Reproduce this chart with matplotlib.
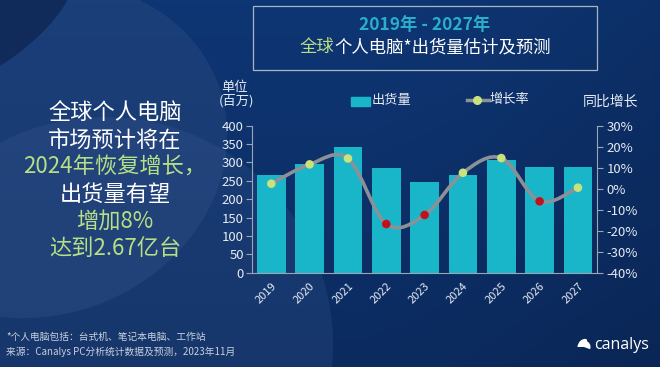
import numpy as np
import matplotlib
matplotlib.use("Agg")
import matplotlib.pyplot as plt
from matplotlib.patches import Rectangle, Circle, Ellipse, PathPatch, Wedge
from matplotlib.path import Path
from matplotlib.ticker import FuncFormatter

plt.rcParams['font.family'] = ['Noto Sans CJK SC', 'DejaVu Sans']

# Data
years = ['2019', '2020', '2021', '2022', '2023', '2024', '2025', '2026', '2027']
shipments = [267, 297, 341, 285, 248, 267, 307, 287, 288]        # 百万台
growth = [2.4, 11.6, 14.4, -16.8, -12.5, 7.6, 14.6, -6.0, 0.5]    # 同比增长 %

headline = [("全球个人电脑", 'w'), ("市场预计将在", 'w'), ("2024年恢复增长，", 'g'),
            ("出货量有望", 'w'), ("增加8%", 'g'), ("达到2.67亿台", 'g')]

# Colors
BAR = '#19b6c9'
GREEN = '#b6df86'
MARK_POS = '#c9e27c'
MARK_NEG = '#c2111c'
LINE = '#8c9097'
TXT = '#e6ebf2'
SPINE = '#9aa6b6'

fig = plt.figure(figsize=(6.6, 3.67), dpi=100)

# Background (pixel coordinates)
bg = fig.add_axes([0, 0, 1, 1], zorder=-1)
bg.set_xlim(0, 660)
bg.set_ylim(367, 0)
bg.axis('off')
gx = np.linspace(0, 1, 200)
gy = np.linspace(0, 1, 120)
X, Y = np.meshgrid(gx, gy)
c_top = np.array([0x0e, 0x36, 0x74]) / 255
c_bot = np.array([0x0a, 0x24, 0x52]) / 255
c_right = np.array([0x08, 0x20, 0x4a]) / 255
t = np.clip(0.6 * Y + 0.5 * np.clip(X - 0.55, 0, 1), 0, 1)[..., None]
img = c_top * (1 - t) + c_bot * t
k = 0.4 * np.clip(X - 0.7, 0, 1)[..., None]
img = img * (1 - k) + c_right * k
bg.imshow(img, extent=[0, 660, 367, 0], aspect='auto', zorder=0)
bg.add_patch(Ellipse((40, 150), 380, 330, angle=-20, color='#2a4a80', alpha=0.45, lw=0, zorder=1))
bg.add_patch(Circle((105, 345), 228, color='#3a5a90', alpha=0.25, lw=0, zorder=1))
bg.add_patch(Ellipse((-40, 20), 260, 120, angle=-30, color='#0a1f45', alpha=0.6, lw=0, zorder=1))

# Title box
bg.add_patch(Rectangle((253, 6), 344, 64, fill=False, ec='#aab4c4', lw=0.9, zorder=2))
bg.text(425, 25, "2019年 - 2027年", color='#2aaecb', fontsize=12.5, fontweight='bold',
        ha='center', va='center', zorder=3)

# title line 2 in two colours, centred as a whole
renderer = fig.canvas.get_renderer()
tmp = bg.text(0, 0, "全球个人电脑*出货量估计及预测", fontsize=12.5)
w = tmp.get_window_extent(renderer).width
tmp.remove()
x0 = 425 - w / 2
a = bg.text(x0, 47, "全球", color=GREEN, fontsize=12.5, ha='left', va='center', zorder=3)
wa = a.get_window_extent(renderer).width
bg.text(x0 + wa, 47, "个人电脑*出货量估计及预测", color='white', fontsize=12.5,
        ha='left', va='center', zorder=3)

# Headline text
for i, (s, c) in enumerate(headline):
    bg.text(115, 113 + i * 27, s, color=('white' if c == 'w' else GREEN), fontsize=16,
            ha='center', va='center', zorder=3)

# Units / legend
bg.text(221, 87, "单位", color=TXT, fontsize=9.5, ha='left', va='center', zorder=3)
bg.text(219, 101, "(百万)", color=TXT, fontsize=9.5, ha='left', va='center', zorder=3)
bg.add_patch(Rectangle((351, 96.5), 19, 9, color=BAR, zorder=3))
bg.text(372, 100.5, "出货量", color=TXT, fontsize=9.5, ha='left', va='center', zorder=3)
bg.plot([467, 489], [100, 100], color=LINE, lw=2.5, zorder=3)
bg.plot([477], [100], 'o', color=MARK_POS, ms=5.5, zorder=4)
bg.text(489, 100, "增长率", color=TXT, fontsize=9.5, ha='left', va='center', zorder=3)
bg.text(583, 102, "同比增长", color=TXT, fontsize=10, ha='left', va='center', zorder=3)

# Footnote
bg.text(6, 337, "*个人电脑包括：台式机、笔记本电脑、工作站", color='#c9d1dd', fontsize=7,
        ha='left', va='center', zorder=3)
bg.text(6, 352, "来源：Canalys PC分析统计数据及预测，2023年11月", color='#c9d1dd', fontsize=7,
        ha='left', va='center', zorder=3)

# canalys logo
bg.add_patch(Wedge((584, 347), 6.5, 180, 20, color='white', lw=0, zorder=3))
bg.add_patch(Ellipse((583, 342), 9, 5, angle=-30, color='white', lw=0, zorder=3))
bg.text(594, 345, "canalys", color='white', fontsize=11.5, family=['Open Sans', 'DejaVu Sans'],
        ha='left', va='center', zorder=3)

# Chart
ax = fig.add_axes([0.382, 0.2569, 0.5227, 0.4005])
ax.set_facecolor('none')
x = np.arange(len(years))
ax.bar(x, shipments, width=0.75, color=BAR, zorder=2)
ax.set_xlim(-0.5, len(years) - 0.5)
ax.set_ylim(0, 400)
ax.set_yticks(range(0, 401, 50))
ax.set_xticks(x)
ax.set_xticklabels(years, rotation=45, ha='right', rotation_mode='anchor', fontsize=8, color=TXT)
ax.tick_params(axis='x', length=0, pad=6)
ax.tick_params(axis='y', colors=SPINE, labelcolor=TXT, labelsize=9.5, length=4, width=0.8, pad=2)
for s in ['top', 'right']:
    ax.spines[s].set_visible(False)
for s in ['left', 'bottom']:
    ax.spines[s].set_color(SPINE)
    ax.spines[s].set_linewidth(0.8)

ax2 = ax.twinx()
ax2.set_ylim(-40, 30)
ax2.set_yticks(range(-40, 31, 10))
ax2.yaxis.set_major_formatter(FuncFormatter(lambda v, p: f"{int(v)}%"))
ax2.tick_params(axis='y', colors=SPINE, labelcolor=TXT, labelsize=9.5, length=4, width=0.8, pad=3)
for s in ['top', 'left', 'bottom']:
    ax2.spines[s].set_visible(False)
ax2.spines['right'].set_color(SPINE)
ax2.spines['right'].set_linewidth(0.8)

# smooth line (Catmull-Rom as cubic Bezier through the data points)
pts = np.column_stack([x, growth]).astype(float)
verts = [pts[0]]
codes = [Path.MOVETO]
n = len(pts)
for i in range(n - 1):
    p0 = pts[max(i - 1, 0)]
    p1 = pts[i]
    p2 = pts[i + 1]
    p3 = pts[min(i + 2, n - 1)]
    verts += [p1 + (p2 - p0) / 6, p2 - (p3 - p1) / 6, p2]
    codes += [Path.CURVE4] * 3
ax2.add_patch(PathPatch(Path(verts, codes), fill=False, ec=LINE, lw=2.6, zorder=3, capstyle='round'))
cols = [MARK_POS if g >= 0 else MARK_NEG for g in growth]
ax2.scatter(x, growth, s=38, c=cols, zorder=4, lw=0)

fig.savefig("out.png", dpi=100)
